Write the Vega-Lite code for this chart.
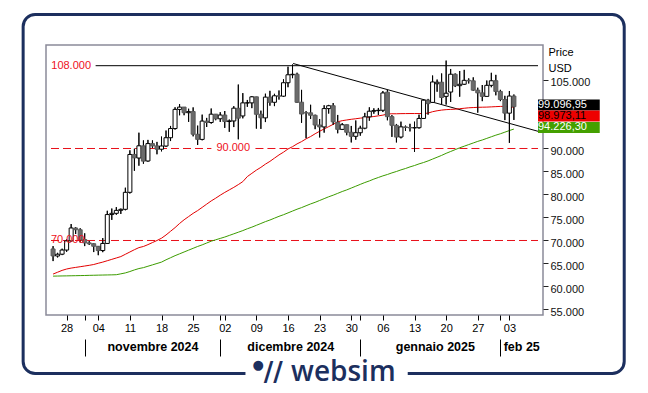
{
 "$schema": "https://vega.github.io/schema/vega-lite/v6.json",
 "width": 497, "height": 270,
 "autosize": {"type": "none"},
 "padding": {"left": 46, "top": 45, "right": 105, "bottom": 78},
 "background": "white",
 "config": {"view": {"stroke": "#8a8a99", "strokeWidth": 1.5}, "font": "Liberation Sans"},
 "datasets": {
  "candles": [
   {"t":"2024-10-25T00:00","o":68161,"h":68772,"l":65521,"c":66642,"m1":62700,"m2":62250},
   {"t":"2024-10-26T00:00","o":66628,"h":67317,"l":66313,"c":67014,"m1":63100,"m2":62270},
   {"t":"2024-10-27T00:00","o":67023,"h":68221,"l":66822,"c":67929,"m1":63500,"m2":62290},
   {"t":"2024-10-28T00:00","o":67922,"h":70212,"l":67535,"c":69907,"m1":63800,"m2":62310},
   {"t":"2024-10-29T00:00","o":69910,"h":73577,"l":69729,"c":72720,"m1":64000,"m2":62330},
   {"t":"2024-10-30T00:00","o":72715,"h":72905,"l":71411,"c":72339,"m1":64150,"m2":62350},
   {"t":"2024-10-31T00:00","o":72335,"h":72662,"l":69590,"c":70215,"m1":64300,"m2":62370},
   {"t":"2024-11-01T00:00","o":70216,"h":71559,"l":68779,"c":69482,"m1":64450,"m2":62390},
   {"t":"2024-11-02T00:00","o":69486,"h":69867,"l":69033,"c":69289,"m1":64600,"m2":62420},
   {"t":"2024-11-03T00:00","o":69296,"h":69361,"l":67482,"c":68741,"m1":64780,"m2":62440},
   {"t":"2024-11-04T00:00","o":68742,"h":68798,"l":66803,"c":67811,"m1":65050,"m2":62470},
   {"t":"2024-11-05T00:00","o":67811,"h":70522,"l":67458,"c":69359,"m1":65300,"m2":62490},
   {"t":"2024-11-06T00:00","o":69358,"h":76461,"l":69322,"c":75640,"m1":65600,"m2":62510},
   {"t":"2024-11-07T00:00","o":75637,"h":76943,"l":74480,"c":75904,"m1":65900,"m2":62530},
   {"t":"2024-11-08T00:00","o":75902,"h":77253,"l":75585,"c":76545,"m1":66200,"m2":62560},
   {"t":"2024-11-09T00:00","o":76556,"h":76932,"l":75773,"c":76778,"m1":66500,"m2":62750},
   {"t":"2024-11-10T00:00","o":76775,"h":81474,"l":76566,"c":80474,"m1":67000,"m2":62950},
   {"t":"2024-11-11T00:00","o":80471,"h":89604,"l":80216,"c":88701,"m1":67500,"m2":63250},
   {"t":"2024-11-12T00:00","o":88706,"h":89956,"l":85155,"c":87955,"m1":68000,"m2":63600},
   {"t":"2024-11-13T00:00","o":87929,"h":93434,"l":86256,"c":90585,"m1":68450,"m2":63900},
   {"t":"2024-11-14T00:00","o":90574,"h":91765,"l":86682,"c":87250,"m1":68700,"m2":64100},
   {"t":"2024-11-15T00:00","o":87284,"h":91868,"l":87125,"c":91066,"m1":69100,"m2":64400},
   {"t":"2024-11-16T00:00","o":91065,"h":91763,"l":90094,"c":90558,"m1":69550,"m2":64700},
   {"t":"2024-11-17T00:00","o":90558,"h":91434,"l":88741,"c":89845,"m1":70000,"m2":65000},
   {"t":"2024-11-18T00:00","o":89843,"h":92594,"l":89376,"c":90542,"m1":70500,"m2":65300},
   {"t":"2024-11-19T00:00","o":90536,"h":93905,"l":90358,"c":92343,"m1":71200,"m2":65800},
   {"t":"2024-11-20T00:00","o":92341,"h":94903,"l":91619,"c":94339,"m1":72000,"m2":66250},
   {"t":"2024-11-21T00:00","o":94336,"h":98967,"l":94111,"c":98505,"m1":72800,"m2":66700},
   {"t":"2024-11-22T00:00","o":98497,"h":99655,"l":97222,"c":98997,"m1":73700,"m2":67100},
   {"t":"2024-11-23T00:00","o":99006,"h":99014,"l":97232,"c":97778,"m1":74500,"m2":67500},
   {"t":"2024-11-24T00:00","o":97779,"h":98647,"l":95788,"c":98013,"m1":75200,"m2":67900},
   {"t":"2024-11-25T00:00","o":98034,"h":98935,"l":92642,"c":93103,"m1":75900,"m2":68300},
   {"t":"2024-11-26T00:00","o":93088,"h":94974,"l":90771,"c":91986,"m1":76500,"m2":68700},
   {"t":"2024-11-27T00:00","o":91979,"h":97361,"l":91778,"c":95962,"m1":77200,"m2":69050},
   {"t":"2024-11-28T00:00","o":95954,"h":96650,"l":94677,"c":95652,"m1":77900,"m2":69450},
   {"t":"2024-11-29T00:00","o":95654,"h":98694,"l":95404,"c":97462,"m1":78600,"m2":69850},
   {"t":"2024-11-30T00:00","o":97468,"h":97499,"l":96145,"c":96449,"m1":79200,"m2":70150},
   {"t":"2024-12-01T00:00","o":96461,"h":97888,"l":95771,"c":97279,"m1":79850,"m2":70450},
   {"t":"2024-12-02T00:00","o":97276,"h":98152,"l":94482,"c":95865,"m1":80450,"m2":70750},
   {"t":"2024-12-03T00:00","o":95862,"h":96297,"l":93629,"c":96002,"m1":81000,"m2":71100},
   {"t":"2024-12-04T00:00","o":95988,"h":99207,"l":94660,"c":98768,"m1":81550,"m2":71450},
   {"t":"2024-12-05T00:00","o":98741,"h":103900,"l":91998,"c":96593,"m1":82150,"m2":71800},
   {"t":"2024-12-06T00:00","o":97075,"h":102040,"l":96555,"c":99920,"m1":82800,"m2":72150},
   {"t":"2024-12-07T00:00","o":99916,"h":100551,"l":99061,"c":99924,"m1":83900,"m2":72550},
   {"t":"2024-12-08T00:00","o":99921,"h":101399,"l":98772,"c":101236,"m1":84600,"m2":72900},
   {"t":"2024-12-09T00:00","o":101237,"h":101237,"l":94325,"c":97432,"m1":85300,"m2":73300},
   {"t":"2024-12-10T00:00","o":97441,"h":98230,"l":94256,"c":96675,"m1":85900,"m2":73700},
   {"t":"2024-12-11T00:00","o":96657,"h":101913,"l":95747,"c":101173,"m1":86600,"m2":74100},
   {"t":"2024-12-12T00:00","o":101167,"h":102540,"l":99310,"c":100043,"m1":87200,"m2":74450},
   {"t":"2024-12-13T00:00","o":100046,"h":101891,"l":99215,"c":101459,"m1":87900,"m2":74850},
   {"t":"2024-12-14T00:00","o":101451,"h":102618,"l":100635,"c":101372,"m1":88600,"m2":75250},
   {"t":"2024-12-15T00:00","o":101373,"h":105047,"l":101228,"c":104298,"m1":89200,"m2":75600},
   {"t":"2024-12-16T00:00","o":104293,"h":107780,"l":103322,"c":106029,"m1":89900,"m2":76000},
   {"t":"2024-12-17T00:00","o":106030,"h":108268,"l":105291,"c":106140,"m1":90400,"m2":76400},
   {"t":"2024-12-18T00:00","o":106147,"h":106470,"l":99900,"c":100041,"m1":91000,"m2":76800},
   {"t":"2024-12-19T00:00","o":100070,"h":102748,"l":95587,"c":97490,"m1":91500,"m2":77150},
   {"t":"2024-12-20T00:00","o":97756,"h":98115,"l":92233,"c":97755,"m1":92100,"m2":77550},
   {"t":"2024-12-21T00:00","o":97756,"h":99507,"l":96426,"c":97225,"m1":92600,"m2":77950},
   {"t":"2024-12-22T00:00","o":97218,"h":97360,"l":94202,"c":95104,"m1":93200,"m2":78300},
   {"t":"2024-12-23T00:00","o":95105,"h":96416,"l":92403,"c":94686,"m1":93750,"m2":78700},
   {"t":"2024-12-24T00:00","o":94687,"h":99404,"l":93448,"c":98676,"m1":94250,"m2":79100},
   {"t":"2024-12-25T00:00","o":98675,"h":99478,"l":97593,"c":99299,"m1":94750,"m2":79500},
   {"t":"2024-12-26T00:00","o":99297,"h":99884,"l":95138,"c":95795,"m1":95250,"m2":79850},
   {"t":"2024-12-27T00:00","o":95704,"h":97294,"l":93310,"c":94164,"m1":95800,"m2":80250},
   {"t":"2024-12-28T00:00","o":94160,"h":95525,"l":94016,"c":95163,"m1":96050,"m2":80650},
   {"t":"2024-12-29T00:00","o":95174,"h":95174,"l":92881,"c":93530,"m1":96200,"m2":81000},
   {"t":"2024-12-30T00:00","o":93527,"h":94903,"l":91318,"c":92643,"m1":96350,"m2":81400},
   {"t":"2024-12-31T00:00","o":92643,"h":96090,"l":91914,"c":93429,"m1":96470,"m2":81800},
   {"t":"2025-01-01T00:00","o":93425,"h":94929,"l":92788,"c":94419,"m1":96600,"m2":82200},
   {"t":"2025-01-02T00:00","o":94416,"h":97739,"l":94201,"c":96886,"m1":96700,"m2":82600},
   {"t":"2025-01-03T00:00","o":96881,"h":98956,"l":96034,"c":98107,"m1":96850,"m2":82950},
   {"t":"2025-01-04T00:00","o":98106,"h":98734,"l":97562,"c":98236,"m1":96950,"m2":83350},
   {"t":"2025-01-05T00:00","o":98233,"h":98813,"l":97292,"c":98314,"m1":97100,"m2":83700},
   {"t":"2025-01-06T00:00","o":98314,"h":102482,"l":97926,"c":102078,"m1":97250,"m2":84050},
   {"t":"2025-01-07T00:00","o":102248,"h":102716,"l":96132,"c":96922,"m1":97500,"m2":84350},
   {"t":"2025-01-08T00:00","o":96924,"h":97258,"l":92525,"c":95043,"m1":97550,"m2":84700},
   {"t":"2025-01-09T00:00","o":95043,"h":95336,"l":91318,"c":92484,"m1":97550,"m2":85000},
   {"t":"2025-01-10T00:00","o":92494,"h":95837,"l":92206,"c":94701,"m1":97580,"m2":85350},
   {"t":"2025-01-11T00:00","o":94700,"h":94977,"l":93840,"c":94566,"m1":97590,"m2":85650},
   {"t":"2025-01-12T00:00","o":94565,"h":95367,"l":93712,"c":94488,"m1":97600,"m2":86000},
   {"t":"2025-01-13T00:00","o":94488,"h":95837,"l":89260,"c":94516,"m1":97600,"m2":86300},
   {"t":"2025-01-14T00:00","o":94519,"h":97356,"l":94320,"c":96534,"m1":97600,"m2":86650},
   {"t":"2025-01-15T00:00","o":96535,"h":100682,"l":96490,"c":100504,"m1":97600,"m2":86950},
   {"t":"2025-01-16T00:00","o":100505,"h":100781,"l":97355,"c":99756,"m1":97700,"m2":87300},
   {"t":"2025-01-17T00:00","o":100025,"h":105865,"l":99950,"c":104462,"m1":98000,"m2":87700},
   {"t":"2025-01-18T00:00","o":104078,"h":104987,"l":102338,"c":104409,"m1":98200,"m2":88100},
   {"t":"2025-01-19T00:00","o":104410,"h":106315,"l":99627,"c":101089,"m1":98350,"m2":88500},
   {"t":"2025-01-20T00:00","o":101331,"h":109114,"l":99543,"c":102016,"m1":98450,"m2":88950},
   {"t":"2025-01-21T00:00","o":102272,"h":107287,"l":100116,"c":106146,"m1":98500,"m2":89350},
   {"t":"2025-01-22T00:00","o":106136,"h":106322,"l":103362,"c":103653,"m1":98550,"m2":89750},
   {"t":"2025-01-23T00:00","o":103657,"h":106850,"l":101258,"c":103960,"m1":98650,"m2":90150},
   {"t":"2025-01-24T00:00","o":103965,"h":107101,"l":103818,"c":104819,"m1":98750,"m2":90500},
   {"t":"2025-01-25T00:00","o":104819,"h":105247,"l":104135,"c":104714,"m1":98850,"m2":90850},
   {"t":"2025-01-26T00:00","o":104713,"h":105469,"l":102495,"c":102682,"m1":98900,"m2":91200},
   {"t":"2025-01-27T00:00","o":102680,"h":103215,"l":97795,"c":102087,"m1":98950,"m2":91550},
   {"t":"2025-01-28T00:00","o":102091,"h":103800,"l":100291,"c":101333,"m1":98980,"m2":91850},
   {"t":"2025-01-29T00:00","o":101330,"h":104778,"l":101330,"c":103733,"m1":99000,"m2":92200},
   {"t":"2025-01-30T00:00","o":103732,"h":106457,"l":103320,"c":104722,"m1":99050,"m2":92550},
   {"t":"2025-01-31T00:00","o":104737,"h":106012,"l":101560,"c":102406,"m1":99100,"m2":92900},
   {"t":"2025-02-01T00:00","o":102405,"h":102755,"l":100297,"c":100655,"m1":99150,"m2":93200},
   {"t":"2025-02-02T00:00","o":100655,"h":101457,"l":96174,"c":97689,"m1":99150,"m2":93550},
   {"t":"2025-02-03T00:00","o":97681,"h":102501,"l":91231,"c":101405,"m1":99050,"m2":93900},
   {"t":"2025-02-04T00:00","o":101398,"h":101740,"l":96208,"c":99097,"m1":98973,"m2":94226}
  ]
 },
 "layer": [
  {
   "data": {"values": [{}]},
   "layer": [
    {
     "data": {"name": "candles"},
     "mark": {"type": "rule", "color": "black", "strokeWidth": 1},
     "encoding": {
      "x": {"field": "t", "type": "temporal",
       "scale": {"domain": [{"year": 2024, "month": 10, "date": 24, "hours": 13}, {"year": 2025, "month": 2, "date": 9, "hours": 8}]},
       "axis": {"title": null, "orient": "bottom", "domain": false, "grid": false, "tickSize": 5, "tickColor": "black", "tickCount": 40,
        "values": [{"year":2024,"month":10,"date":28},{"year":2024,"month":11,"date":1},{"year":2024,"month":11,"date":4},{"year":2024,"month":11,"date":11},{"year":2024,"month":11,"date":18},{"year":2024,"month":11,"date":25},{"year":2024,"month":12,"date":1},{"year":2024,"month":12,"date":2},{"year":2024,"month":12,"date":9},{"year":2024,"month":12,"date":16},{"year":2024,"month":12,"date":23},{"year":2024,"month":12,"date":30},{"year":2025,"month":1,"date":1},{"year":2025,"month":1,"date":6},{"year":2025,"month":1,"date":13},{"year":2025,"month":1,"date":20},{"year":2025,"month":1,"date":27},{"year":2025,"month":2,"date":1},{"year":2025,"month":2,"date":3}],
        "labelExpr": "date(datum.value) == 1 ? '' : timeFormat(datum.value, '%d')",
        "labelFontSize": 11, "labelColor": "black", "labelPadding": 2, "labelFlush": false, "labelOverlap": false}},
      "y": {"field": "l", "type": "quantitative",
       "scale": {"domain": [53801, 112501], "nice": false, "zero": false},
       "axis": {"orient": "right", "title": ["Price", "USD"], "domain": false, "grid": false, "tickCount": 40,
        "values": [55000, 60000, 65000, 70000, 75000, 80000, 85000, 90000, 95000, 100000, 105000],
        "labelExpr": "datum.value == 95000 || datum.value == 100000 ? '' : replace(format(datum.value, ','), ',', '.')",
        "tickSize": 5, "tickColor": "#222", "labelFontSize": 11, "labelColor": "#111", "labelPadding": 2, "labelOffset": 3, "labelOverlap": false, "labelFlush": false,
        "titleAngle": 0, "titleAlign": "left", "titleBaseline": "top", "titleX": 5, "titleY": 1,
        "titleFontSize": 11, "titleFontWeight": "normal", "titleColor": "black", "titleLineHeight": 16}},
      "y2": {"field": "h"}
     }
    },
    {
     "mark": {"type": "rule", "color": "black", "strokeWidth": 1},
     "encoding": {
      "x": {"datum": {"year": 2024, "month": 11, "date": 3, "hours": 10}, "type": "temporal"},
      "x2": {"datum": {"year": 2025, "month": 2, "date": 9, "hours": 8}},
      "y": {"datum": 108000, "type": "quantitative"}
     }
    },
    {
     "mark": {"type": "rule", "color": "#e8101a", "strokeWidth": 1, "strokeDash": [8, 4]},
     "encoding": {
      "x": {"datum": {"year": 2024, "month": 10, "date": 24, "hours": 13}, "type": "temporal"},
      "x2": {"datum": {"year": 2024, "month": 11, "date": 29, "hours": 1}},
      "y": {"datum": 90000, "type": "quantitative"}
     }
    },
    {
     "mark": {"type": "rule", "color": "#e8101a", "strokeWidth": 1, "strokeDash": [8, 4]},
     "encoding": {
      "x": {"datum": {"year": 2024, "month": 12, "date": 8, "hours": 19}, "type": "temporal"},
      "x2": {"datum": {"year": 2025, "month": 2, "date": 9, "hours": 8}},
      "y": {"datum": 90000, "type": "quantitative"}
     }
    },
    {
     "mark": {"type": "rule", "color": "#e8101a", "strokeWidth": 1, "strokeDash": [8, 4]},
     "encoding": {
      "x": {"datum": {"year": 2024, "month": 10, "date": 24, "hours": 13}, "type": "temporal"},
      "x2": {"datum": {"year": 2025, "month": 2, "date": 9, "hours": 8}},
      "y": {"datum": 70000, "type": "quantitative"}
     }
    },
    {
     "mark": {"type": "rule", "color": "black", "strokeWidth": 1},
     "encoding": {
      "x": {"datum": {"year": 2024, "month": 12, "date": 17, "hours": 3}, "type": "temporal"},
      "x2": {"datum": {"year": 2025, "month": 2, "date": 9, "hours": 8}},
      "y": {"datum": 108480, "type": "quantitative"},
      "y2": {"datum": 93740}
     }
    },
    {
     "data": {"name": "candles"},
     "mark": {"type": "line", "color": "#e30000", "strokeWidth": 1},
     "encoding": {"x": {"field": "t", "type": "temporal"}, "y": {"field": "m1", "type": "quantitative"}}
    },
    {
     "data": {"name": "candles"},
     "mark": {"type": "line", "color": "#3c9c00", "strokeWidth": 1},
     "encoding": {"x": {"field": "t", "type": "temporal"}, "y": {"field": "m2", "type": "quantitative"}}
    },
    {
     "data": {"name": "candles"},
     "mark": {"type": "rule", "color": "black", "strokeWidth": 1},
     "encoding": {"x": {"field": "t", "type": "temporal"}, "y": {"field": "l", "type": "quantitative"}, "y2": {"field": "h"}}
    },
    {
     "data": {"name": "candles"},
     "mark": {"type": "bar", "width": 4, "strokeWidth": 1},
     "encoding": {
      "x": {"field": "t", "type": "temporal"},
      "y": {"field": "o", "type": "quantitative"},
      "y2": {"field": "c"},
      "fill": {"condition": {"test": "datum.c >= datum.o", "value": "white"}, "value": "#6b6b6b"},
      "stroke": {"condition": {"test": "datum.c >= datum.o", "value": "black"}, "value": "#5a5a5a"}
     }
    },
    {
     "mark": {"type": "text", "color": "#ee1122", "fontSize": 11, "align": "center", "baseline": "middle"},
     "encoding": {"x": {"datum": {"year": 2024, "month": 10, "date": 29}, "type": "temporal"}, "y": {"datum": 108000, "type": "quantitative"}, "text": {"value": "108.000"}}
    },
    {
     "mark": {"type": "text", "color": "#ee1122", "fontSize": 11, "align": "center", "baseline": "middle"},
     "encoding": {"x": {"datum": {"year": 2024, "month": 12, "date": 3, "hours": 21}, "type": "temporal"}, "y": {"datum": 90000, "type": "quantitative"}, "text": {"value": "90.000"}}
    },
    {
     "mark": {"type": "text", "color": "#ee1122", "fontSize": 11, "align": "center", "baseline": "middle"},
     "encoding": {"x": {"datum": {"year": 2024, "month": 10, "date": 28, "hours": 6}, "type": "temporal"}, "y": {"datum": 70000, "type": "quantitative"}, "text": {"value": "70.000"}}
    },
    {
     "mark": {"type": "rect", "height": 11, "color": "black"},
     "encoding": {"x": {"datum": {"year": 2025, "month": 2, "date": 9, "hours": 8}, "type": "temporal"}, "x2": {"datum": {"year": 2025, "month": 2, "date": 23}}, "y": {"datum": 99096.95, "type": "quantitative"}, "yOffset": {"value": -1.7}}
    },
    {
     "mark": {"type": "rect", "height": 11, "color": "#ee0000"},
     "encoding": {"x": {"datum": {"year": 2025, "month": 2, "date": 9, "hours": 8}, "type": "temporal"}, "x2": {"datum": {"year": 2025, "month": 2, "date": 23}}, "y": {"datum": 98973.11, "type": "quantitative"}, "yOffset": {"value": 8.8}}
    },
    {
     "mark": {"type": "rect", "height": 11, "color": "#44a000"},
     "encoding": {"x": {"datum": {"year": 2025, "month": 2, "date": 9, "hours": 8}, "type": "temporal"}, "x2": {"datum": {"year": 2025, "month": 2, "date": 23}}, "y": {"datum": 94226.30, "type": "quantitative"}, "yOffset": {"value": -1.6}}
    },
    {
     "mark": {"type": "text", "color": "white", "fontSize": 11, "align": "left", "baseline": "middle"},
     "encoding": {"x": {"datum": {"year": 2025, "month": 2, "date": 9, "hours": 8}, "type": "temporal"}, "y": {"datum": 99096.95, "type": "quantitative"}, "yOffset": {"value": -1.7}, "text": {"value": "99.096,95"}}
    },
    {
     "mark": {"type": "text", "color": "black", "fontSize": 11, "align": "left", "baseline": "middle"},
     "encoding": {"x": {"datum": {"year": 2025, "month": 2, "date": 9, "hours": 8}, "type": "temporal"}, "y": {"datum": 98973.11, "type": "quantitative"}, "yOffset": {"value": 8.8}, "text": {"value": "98.973,11"}}
    },
    {
     "mark": {"type": "text", "color": "white", "fontSize": 11, "align": "left", "baseline": "middle"},
     "encoding": {"x": {"datum": {"year": 2025, "month": 2, "date": 9, "hours": 8}, "type": "temporal"}, "y": {"datum": 94226.30, "type": "quantitative"}, "yOffset": {"value": -1.6}, "text": {"value": "94.226,30"}}
    },
    {
     "mark": {"type": "rect", "cornerRadius": 12, "fillOpacity": 0, "stroke": "#1c2f5e", "strokeWidth": 3},
     "encoding": {
      "x": {"datum": {"year": 2024, "month": 10, "date": 18, "hours": 9}, "type": "temporal"},
      "x2": {"datum": {"year": 2025, "month": 2, "date": 28, "hours": 10}},
      "y": {"datum": 119130, "type": "quantitative"},
      "y2": {"datum": 41085}
     }
    },
    {
     "mark": {"type": "rect", "color": "white"},
     "encoding": {
      "x": {"datum": {"year": 2024, "month": 12, "date": 6, "hours": 14}, "type": "temporal"},
      "x2": {"datum": {"year": 2025, "month": 1, "date": 11, "hours": 12}},
      "y": {"datum": 43260, "type": "quantitative"},
      "y2": {"datum": 38910}
     }
    },
    {
     "mark": {"type": "text", "color": "#1c2f5e", "fontSize": 28, "font": "Open Sans", "fontWeight": 600, "align": "center", "baseline": "middle"},
     "encoding": {"x": {"datum": {"year": 2024, "month": 12, "date": 28, "hours": 6}, "type": "temporal"}, "y": {"datum": 41100, "type": "quantitative"}, "text": {"value": "websim"}}
    },
    {
     "mark": {"type": "text", "color": "#1c2f5e", "fontSize": 13, "font": "DejaVu Sans", "align": "center", "baseline": "middle"},
     "encoding": {"x": {"datum": {"year": 2024, "month": 12, "date": 9, "hours": 10}, "type": "temporal"}, "y": {"datum": 43000, "type": "quantitative"}, "text": {"value": "●"}}
    },
    {
     "mark": {"type": "text", "color": "#1c2f5e", "fontSize": 26, "font": "DejaVu Sans", "fontWeight": "bold", "align": "center", "baseline": "middle"},
     "encoding": {"x": {"datum": {"year": 2024, "month": 12, "date": 12, "hours": 18}, "type": "temporal"}, "y": {"datum": 41100, "type": "quantitative"}, "text": {"value": "//"}}
    }
   ]
  },
  {
   "data": {"values": [{"t": "2024-11-16T00:00"}]},
   "mark": {"type": "point", "opacity": 0},
   "encoding": {
    "x": {"field": "t", "type": "temporal",
     "scale": {"domain": [{"year": 2024, "month": 10, "date": 24, "hours": 13}, {"year": 2025, "month": 2, "date": 9, "hours": 8}]},
     "axis": {"title": null, "orient": "bottom", "domain": false, "grid": false, "offset": 24, "tickSize": 17, "tickColor": "black", "tickCount": 40,
      "tickOpacity": {"condition": {"test": "date(datum.value) == 1 && hours(datum.value) == 0", "value": 1}, "value": 0},
      "values": [{"year":2024,"month":11,"date":1},{"year":2024,"month":11,"date":16},{"year":2024,"month":12,"date":1},{"year":2024,"month":12,"date":16,"hours":12},{"year":2025,"month":1,"date":1},{"year":2025,"month":1,"date":17,"hours":12},{"year":2025,"month":2,"date":1},{"year":2025,"month":2,"date":5,"hours":15}],
      "labelExpr": "date(datum.value) == 1 && hours(datum.value) == 0 ? '' : month(datum.value) == 10 ? 'novembre 2024' : month(datum.value) == 11 ? 'dicembre 2024' : month(datum.value) == 0 ? 'gennaio 2025' : 'feb 25'",
      "labelFontSize": 12.5, "labelFontWeight": "bold", "labelColor": "black", "labelPadding": -16, "labelFlush": false, "labelOverlap": false}}
   }
  }
 ],
 "resolve": {"axis": {"x": "independent"}}
}
